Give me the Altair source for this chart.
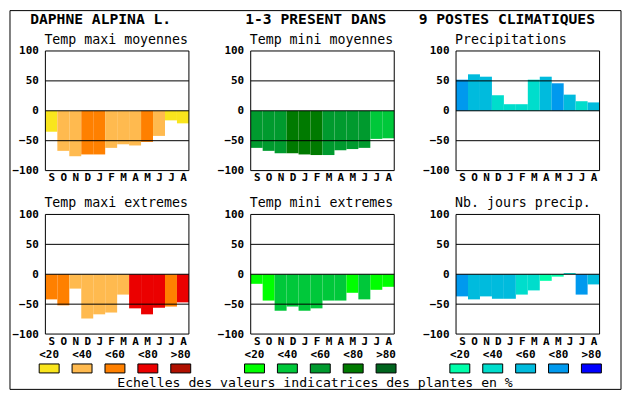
import altair as alt
import pandas as pd

# ---------------- data ----------------
months = ["Sept", "Oct", "Nov", "Déc", "Janv", "Févr", "Mars", "Avr", "Mai", "Juin", "Juil", "Août"]
classes = ["<20", "<40", "<60", "<80", ">80"]

heat_colors = ["#f9e51d", "#ffba4f", "#ff8000", "#eb0000", "#b01000"]
green_colors = ["#00ff00", "#00c83a", "#009a2e", "#007a00", "#00641e"]
blue_colors = ["#00ffaa", "#00ddcc", "#00bbdd", "#0099ee", "#0000ff"]

tmax_moy = [-35, -67, -76, -73, -73, -62, -56, -58, -52, -42, -16, -21]
tmax_moy_cls = ["<20", "<40", "<40", "<60", "<60", "<40", "<40", "<40", "<60", "<40", "<20", "<20"]

tmin_moy = [-62, -67, -71, -71, -73, -74, -74, -66, -64, -62, -47, -46]
tmin_moy_cls = ["<60", "<60", "<60", "<80", "<80", "<80", "<60", "<60", "<60", "<60", "<40", "<40"]

precip = [52, 61, 57, 26, 11, 11, 52, 57, 46, 27, 16, 14]
precip_cls = ["<80", "<60", "<60", "<40", "<40", "<40", "<40", "<60", "<80", "<60", "<40", "<60"]

tmax_ext = [-42, -52, -24, -74, -67, -64, -34, -57, -67, -56, -54, -47]
tmax_ext_cls = ["<60", "<60", "<40", "<40", "<40", "<40", "<40", "<80", "<80", "<80", "<60", "<80"]

tmin_ext = [-16, -44, -61, -54, -61, -57, -44, -44, -31, -42, -26, -21]
tmin_ext_cls = ["<20", "<20", "<40", "<40", "<40", "<40", "<40", "<40", "<20", "<40", "<20", "<20"]

jours = [-37, -42, -37, -41, -41, -34, -27, -11, -4, 2, -34, -17]
jours_cls = ["<80", "<60", "<60", "<60", "<60", "<40", "<40", "<20", "<20", "<40", "<80", "<60"]

headers = ["DAPHNE ALPINA L.", "1-3 PRESENT DANS", "9 POSTES CLIMATIQUES"]
footer = "Echelles des valeurs indicatrices des plantes en %"
y_ticks = [-100, -50, 0, 50, 100]
grid_values = [-50, 0, 50]

# ---------------- styling / layout ----------------
MONO = "DejaVu Sans Mono"
W, H = 613, 380
PW = 144
col_left = [36, 242, 448]
row_y = [(161, 41), (325, 205)]
header_dx = [-15.8, -6, -38]
legend_ranges = [[23.3, 188.3], [229.3, 394.3], [435.3, 600.3]]

palettes = {"heat": heat_colors, "green": green_colors, "blue": blue_colors}
color_domain = [p + c for p in palettes for c in classes]
color_range = [col for p in palettes for col in palettes[p]]
color_scale = alt.Scale(domain=color_domain, range=color_range)

letters = [m[0] for m in months]
label_expr = "[" + ",".join("'%s'" % l for l in letters) + "][floor(datum.value)]"


def panel(values, cls, palette, col, row, subtitle, header=None):
    x0 = col_left[col]
    yb, yt = row_y[row]
    xs = alt.Scale(domain=[0, 12], range=[x0, x0 + PW], nice=False, zero=False)
    ys = alt.Scale(domain=[-100, 100], range=[yb, yt], nice=False, zero=False)

    df = pd.DataFrame({"month": months, "value": values, "cls": cls})
    df["i"] = list(range(len(months)))
    df["i1"] = df["i"] + 1
    df["zero"] = 0
    df["key"] = palette + df["cls"]

    yaxis_kw = dict(orient="left", offset=-x0, values=y_ticks, labelPadding=7)
    if header is not None:
        yaxis_kw.update(title=header, titleAngle=0, titleAlign="left",
                        titleBaseline="alphabetic", titleX=header_dx[col], titleY=13.8,
                        titleFont=MONO, titleFontSize=14.7, titleFontWeight="bold",
                        titleColor="black")
    else:
        yaxis_kw.update(title=None)

    bars = alt.Chart(df).mark_rect().encode(
        x=alt.X("i:Q", scale=xs, axis=alt.Axis(
            orient="bottom", offset=yb - H,
            values=[k + 0.5 for k in range(12)], labelExpr=label_expr,
            labelPadding=1, labelAngle=0,
            title=subtitle, titleAngle=0, titleAlign="left", titleBaseline="alphabetic",
            titleX=x0 - 1.5, titleY=-127.5, titleFont=MONO, titleFontSize=13.3,
            titleFontWeight="normal", titleColor="black")),
        x2="i1:Q",
        y=alt.Y("value:Q", scale=ys, axis=alt.Axis(**yaxis_kw)),
        y2="zero:Q",
        color=alt.Color("key:N", scale=color_scale, legend=None),
    )

    gdf = pd.DataFrame({"g": grid_values, "a": 0, "b": 12})
    rules = alt.Chart(gdf).mark_rule(color="black", strokeWidth=1).encode(
        x=alt.X("a:Q", scale=xs, axis=None), x2="b:Q",
        y=alt.Y("g:Q", scale=ys, axis=None),
    )

    bdf = pd.DataFrame({"a": [0], "b": [12], "lo": [-100], "hi": [100]})
    border = alt.Chart(bdf).mark_rect(fillOpacity=0, stroke="black", strokeWidth=1).encode(
        x=alt.X("a:Q", scale=xs, axis=None), x2="b:Q",
        y=alt.Y("lo:Q", scale=ys, axis=None), y2="hi:Q",
    )
    return [bars, rules, border]


def legend(palette, rng):
    df = pd.DataFrame({"cls": classes, "row": "box"})
    df["key"] = palette + df["cls"]
    return alt.Chart(df).mark_rect(stroke="black", strokeWidth=1).encode(
        x=alt.X("cls:N", sort=classes,
                scale=alt.Scale(domain=classes, range=rng, paddingInner=0.394, paddingOuter=0.197),
                axis=alt.Axis(orient="top", offset=-355, labelPadding=9, labelBaseline="middle",
                              labelAngle=0, title=None)),
        y=alt.Y("row:N", scale=alt.Scale(domain=["box"], range=[355, 364], paddingInner=0, paddingOuter=0),
                axis=None),
        color=alt.Color("key:N", scale=color_scale, legend=None),
    )


layers = (
    panel(tmax_moy, tmax_moy_cls, "heat", 0, 0, "Temp maxi moyennes", headers[0])
    + panel(tmin_moy, tmin_moy_cls, "green", 1, 0, "Temp mini moyennes", headers[1])
    + panel(precip, precip_cls, "blue", 2, 0, "Precipitations", headers[2])
    + panel(tmax_ext, tmax_ext_cls, "heat", 0, 1, "Temp maxi extremes")
    + panel(tmin_ext, tmin_ext_cls, "green", 1, 1, "Temp mini extremes")
    + panel(jours, jours_cls, "blue", 2, 1, "Nb. jours precip.")
    + [legend("heat", legend_ranges[0]),
       legend("green", legend_ranges[1]),
       legend("blue", legend_ranges[2])]
)

chart = alt.layer(*layers).resolve_scale(
    x="independent", y="independent"
).resolve_axis(
    x="independent", y="independent"
).properties(
    width=W, height=H,
    padding={"left": 1.5, "top": 1.5, "right": 1.5, "bottom": 1.5},
    autosize=alt.AutoSizeParams(type="none"),
    title=alt.TitleParams(text=footer, orient="bottom", anchor="middle", frame="group",
                          offset=-2, baseline="alphabetic", font=MONO, fontSize=13.2,
                          fontWeight="normal", color="black"),
).configure_view(
    stroke="black", strokeWidth=1, fill="white"
).configure_axis(
    labelFont=MONO, labelFontWeight="bold", labelFontSize=11, labelColor="black",
    labelFlush=False, ticks=False, domain=False, grid=False,
)

chart.save("out.html", embed_options={"renderer": "svg", "actions": False})
